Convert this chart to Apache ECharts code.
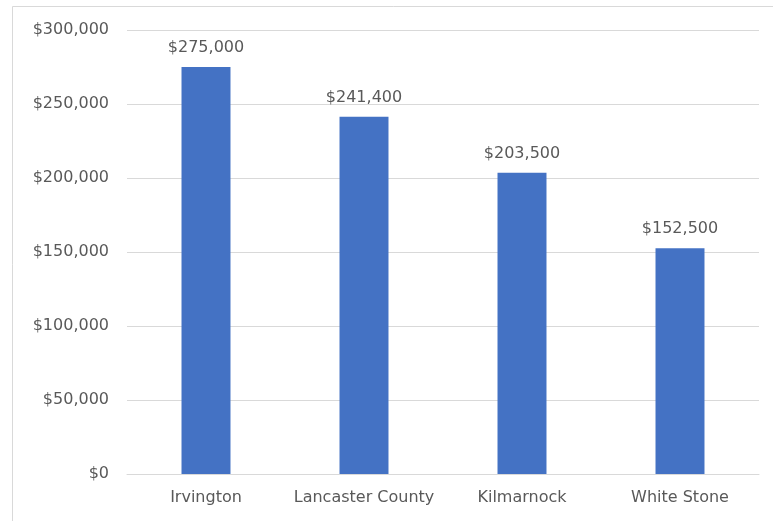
<!DOCTYPE html>
<html>
<head>
<meta charset="utf-8">
<script src="https://cdn.jsdelivr.net/npm/echarts@6/dist/echarts.min.js"></script>
<style>
  html, body { margin: 0; padding: 0; background: #fff; }
  #chart { width: 773px; height: 521px; }
</style>
</head>
<body>
<div id="chart"></div>
<script>
// Median home values by locality
const categories = ['Irvington', 'Lancaster County', 'Kilmarnock', 'White Stone'];
const medianValues = [275000, 241400, 203500, 152500];
const yTicks = { min: 0, max: 300000, interval: 50000 };

const fmtDollar = v => '$' + Number(v).toLocaleString('en-US');

const chart = echarts.init(document.getElementById('chart'), null, { renderer: 'canvas' });
const textColor = '#595959';
const font = "'DejaVu Sans', sans-serif";

chart.setOption({
  animation: false,
  backgroundColor: '#ffffff',
  graphic: [{
    type: 'rect',
    shape: { x: 12.5, y: 6.5, width: 900, height: 700 },
    style: { fill: 'none', stroke: '#d9d9d9', lineWidth: 1 },
    silent: true,
    z: -1
  }],
  grid: { left: 127, top: 30, right: 14, bottom: 47, containLabel: false },
  xAxis: {
    type: 'category',
    data: categories,
    axisTick: { show: false },
    axisLine: { lineStyle: { color: '#d9d9d9', width: 1 } },
    axisLabel: { interval: 0, color: textColor, fontFamily: font, fontSize: 16, margin: 16 }
  },
  yAxis: {
    type: 'value',
    min: yTicks.min, max: yTicks.max, interval: yTicks.interval,
    axisLine: { show: false },
    axisTick: { show: false },
    splitLine: { lineStyle: { color: '#d9d9d9', width: 1 } },
    axisLabel: { color: textColor, fontFamily: font, fontSize: 16, margin: 18, formatter: fmtDollar }
  },
  series: [{
    type: 'bar',
    data: medianValues,
    barWidth: '31%',
    itemStyle: { color: '#4472c4' },
    label: {
      show: true,
      position: 'top',
      distance: 11,
      color: textColor,
      fontFamily: font,
      fontSize: 16,
      formatter: p => fmtDollar(p.value)
    }
  }]
});
</script>
</body>
</html>
